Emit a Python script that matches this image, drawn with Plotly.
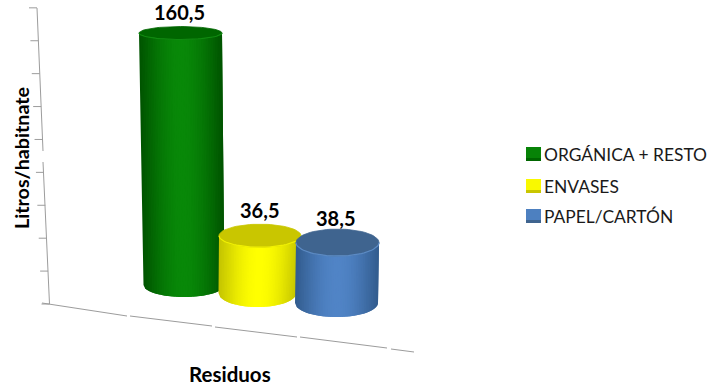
import math
import plotly.graph_objects as go

# Litres per inhabitant by waste stream
categories = ["ORGÁNICA + RESTO", "ENVASES", "PAPEL/CARTÓN"]
litros = [160.5, 36.5, 38.5]
etiquetas = ["160,5", "36,5", "38,5"]
marcas_eje = [0, 20, 40, 60, 80, 100, 120, 140, 160, 180]

W, H = 719, 387
FONT = "Lato"
PX_POR_LITRO = 1.57
SUELO_PX = 304.0


def litros_de_px(py):
    return (SUELO_PX - py) / PX_POR_LITRO


# Cylinder geometry: (centre x, radius x, radius y) at bottom and top, floor line in px
geometria = [
    dict(bot=(184.0, 40.5, 12.0), top=(180.5, 41.5, 6.5), suelo=285.0, lab=(179.5, 21)),
    dict(bot=(257.5, 39.0, 14.0), top=(260.0, 41.0, 11.5), suelo=293.0, lab=(259, 26)),
    dict(bot=(336.5, 41.5, 14.0), top=(337.5, 41.5, 13.5), suelo=303.0, lab=(335, 25)),
]
estilos = [
    dict(borde=(0, 84, 0), centro=(8, 136, 8), tapa="#006600", aro="#108a10"),
    dict(borde=(196, 196, 0), centro=(255, 255, 0), tapa="#c9c600", aro="#f2f200"),
    dict(borde=(50, 92, 142), centro=(80, 132, 198), tapa="#3f648f", aro="#5b8ac4"),
]


def mezcla(a, b, f):
    return "rgb(%d,%d,%d)" % tuple(round(a[i] + (b[i] - a[i]) * f) for i in range(3))


fig = go.Figure()


def linea(xs, ys, color="#9c9c9c", ancho=1.0):
    fig.add_trace(go.Scatter(x=xs, y=ys, mode="lines", line=dict(color=color, width=ancho),
                             hoverinfo="skip", showlegend=False))


# Back wall of the value axis, with its tick marks
linea([37, 43, None, 43, 49.5], [litros_de_px(8), litros_de_px(151), None, litros_de_px(162), litros_de_px(304)])
for m in marcas_eje:
    py = SUELO_PX - m * PX_POR_LITRO * 1.048
    xe = 49.5 - 12.5 * m / 180
    linea([xe - 8, xe], [litros_de_px(py), litros_de_px(py)])

# Floor line, broken where the category ticks fall
suelo = [((42, 303), (127, 316)), ((130, 316), (212, 326)), ((215, 327), (297, 337)),
         ((300, 337), (387, 348)), ((391, 349), (414, 352))]
for a, b in suelo:
    linea([a[0], b[0]], [litros_de_px(a[1]), litros_de_px(b[1])])


def cilindro(valor, g, e, n=48):
    xb, rxb, ryb = g["bot"]
    xt, rxt, ryt = g["top"]
    base = litros_de_px(g["suelo"])
    alto = base + valor
    ryb_l, ryt_l = ryb / PX_POR_LITRO, ryt / PX_POR_LITRO

    # Side wall as thin vertical strips, each one running under the next to hide seams
    for i in range(n):
        t0 = -1 + 2 * i / n
        t1 = min(1, -1 + 2 * (i + 2) / n)
        tm = -1 + 2 * (i + 0.5) / n
        f = math.cos(tm * math.pi / 2) ** 1.1
        color = mezcla(e["borde"], e["centro"], f)
        ts = [t0 + (t1 - t0) * k / 4 for k in range(5)]
        xs = [xb + rxb * t for t in ts] + [xt + rxt * t for t in reversed(ts)]
        ys = [base - ryb_l * math.sqrt(max(0, 1 - t * t)) for t in ts] + \
             [alto - ryt_l * math.sqrt(max(0, 1 - t * t)) for t in reversed(ts)]
        fig.add_trace(go.Scatter(x=xs + xs[:1], y=ys + ys[:1], mode="lines", fill="toself",
                                 fillcolor=color, line=dict(color=color, width=0),
                                 hoverinfo="skip", showlegend=False))

    # Top cap and its bright rim
    pasos = [2 * math.pi * k / 72 for k in range(73)]
    fig.add_trace(go.Scatter(x=[xt + rxt * math.cos(a) for a in pasos],
                             y=[alto + ryt_l * math.sin(a) for a in pasos],
                             mode="lines", fill="toself", fillcolor=e["tapa"],
                             line=dict(color=e["tapa"], width=0.8),
                             hoverinfo="skip", showlegend=False))
    arco = [math.pi + math.pi * k / 36 for k in range(37)]
    linea([xt + rxt * math.cos(a) for a in arco],
          [alto + ryt_l * math.sin(a) for a in arco], color=e["aro"], ancho=1.2)


for valor, g, e in zip(litros, geometria, estilos):
    cilindro(valor, g, e)

anotaciones = []
for valor, texto, g in zip(litros, etiquetas, geometria):
    anotaciones.append(dict(x=g["lab"][0], y=litros_de_px(g["suelo"]) + valor, xref="x", yref="y",
                            text=f"<b>{texto}</b>", showarrow=False, yshift=g["lab"][1],
                            xanchor="center", yanchor="middle",
                            font=dict(family=FONT, size=20, color="#000000")))


def en_papel(px, py):
    return px / W, 1 - py / H


# Axis titles
tx, ty = en_papel(229.5, 374)
anotaciones.append(dict(x=tx, y=ty, xref="paper", yref="paper", text="<b>Residuos</b>", showarrow=False,
                        xanchor="center", yanchor="middle",
                        font=dict(family=FONT, size=20.5, color="#000000")))
tx, ty = en_papel(21.5, 158.5)
anotaciones.append(dict(x=tx, y=ty, xref="paper", yref="paper", text="<b>Litros/habitnate</b>", showarrow=False,
                        xanchor="center", yanchor="middle",
                        textangle=-90, font=dict(family=FONT, size=19.7, color="#000000")))

# Legend: bevelled swatches with their names
formas = []
filas_px = [154, 186, 216]
for nombre, fila, e in zip(categories, filas_px, estilos):
    tx, ty = en_papel(542, fila)
    anotaciones.append(dict(x=tx, y=ty, xref="paper", yref="paper", text=nombre, showarrow=False,
                            xanchor="left", yanchor="middle",
                            font=dict(family=FONT, size=17.4, color="#1a1a1a")))
    x0, y1 = en_papel(526, fila + 7)
    x1, y0 = en_papel(541, fila - 7)
    formas.append(dict(type="rect", xref="paper", yref="paper", x0=x0, x1=x1, y0=y1, y1=y0,
                       fillcolor=mezcla(e["borde"], e["centro"], 0.9), line=dict(width=0)))
    _, yb = en_papel(0, fila + 4)
    formas.append(dict(type="rect", xref="paper", yref="paper", x0=x0, x1=x1, y0=y1, y1=yb,
                       fillcolor=e["tapa"], line=dict(width=0)))

fig.update_layout(
    width=W, height=H, margin=dict(l=0, r=0, t=0, b=0), autosize=False,
    paper_bgcolor="#ffffff", plot_bgcolor="#ffffff", showlegend=False,
    xaxis=dict(visible=False, range=[0, W], fixedrange=True),
    yaxis=dict(visible=False, range=[litros_de_px(H), litros_de_px(0)], fixedrange=True),
    annotations=anotaciones, shapes=formas,
)

fig.write_html("out.html", config=dict(displayModeBar=False))
